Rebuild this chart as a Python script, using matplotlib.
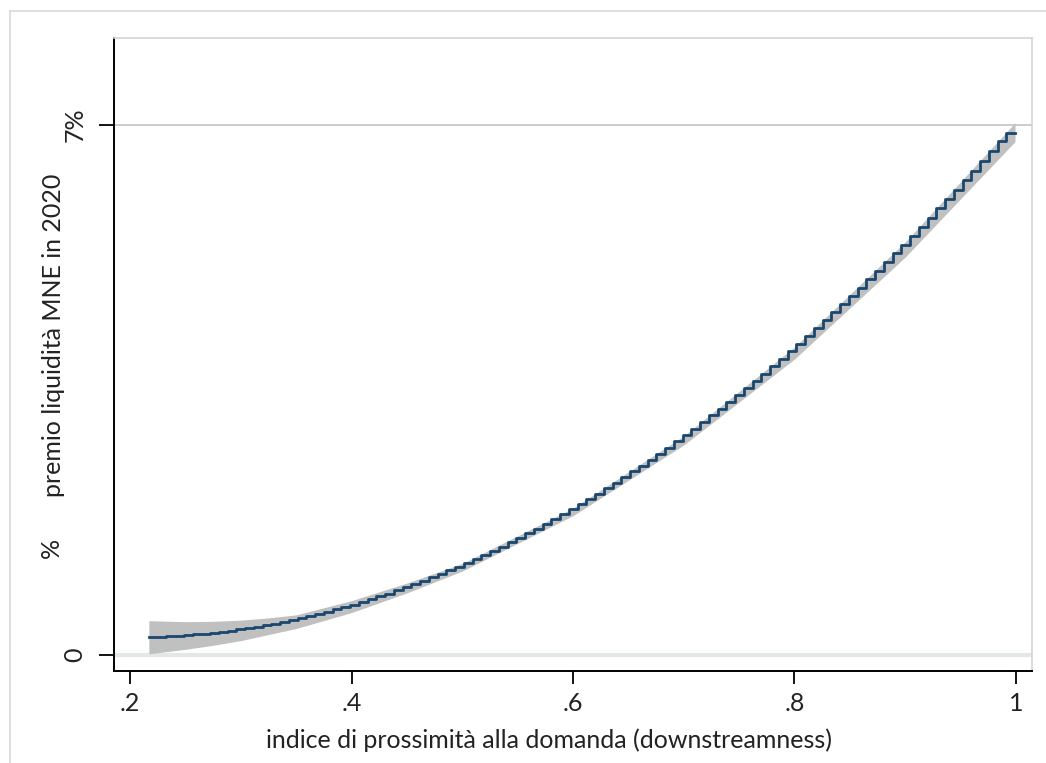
import matplotlib
matplotlib.use("Agg")
import matplotlib.pyplot as plt
from matplotlib.lines import Line2D

plt.rcParams['font.family'] = ['Lato', 'DejaVu Sans']

# Fitted MNE liquidity premium (%) over the downstreamness index
x_fit = [0.2170, 0.2249, 0.2328, 0.2407, 0.2486, 0.2565, 0.2644, 0.2723, 0.2802, 0.2881,
         0.2960, 0.3039, 0.3118, 0.3197, 0.3276, 0.3355, 0.3434, 0.3513, 0.3592, 0.3671,
         0.3750, 0.3829, 0.3908, 0.3987, 0.4066, 0.4145, 0.4224, 0.4303, 0.4382, 0.4461,
         0.4540, 0.4619, 0.4698, 0.4777, 0.4856, 0.4935, 0.5014, 0.5093, 0.5172, 0.5251,
         0.5330, 0.5409, 0.5488, 0.5567, 0.5646, 0.5725, 0.5804, 0.5883, 0.5962, 0.6041,
         0.6120, 0.6199, 0.6278, 0.6357, 0.6436, 0.6515, 0.6594, 0.6673, 0.6752, 0.6831,
         0.6910, 0.6989, 0.7068, 0.7147, 0.7226, 0.7305, 0.7384, 0.7463, 0.7542, 0.7621,
         0.7700, 0.7779, 0.7858, 0.7937, 0.8016, 0.8095, 0.8174, 0.8253, 0.8332, 0.8411,
         0.8490, 0.8569, 0.8648, 0.8727, 0.8806, 0.8885, 0.8964, 0.9043, 0.9122, 0.9201,
         0.9280, 0.9359, 0.9438, 0.9517, 0.9596, 0.9675, 0.9754, 0.9833, 0.9912, 0.9991]

premium = [0.234, 0.237, 0.241, 0.246, 0.253, 0.261, 0.271, 0.281, 0.293, 0.307,
           0.322, 0.338, 0.355, 0.374, 0.393, 0.415, 0.437, 0.461, 0.487, 0.513,
           0.541, 0.570, 0.601, 0.633, 0.666, 0.700, 0.736, 0.773, 0.812, 0.852,
           0.893, 0.935, 0.979, 1.024, 1.070, 1.118, 1.167, 1.217, 1.269, 1.322,
           1.376, 1.432, 1.489, 1.547, 1.607, 1.668, 1.730, 1.794, 1.858, 1.925,
           1.992, 2.061, 2.131, 2.203, 2.275, 2.350, 2.425, 2.502, 2.580, 2.659,
           2.740, 2.822, 2.905, 2.990, 3.076, 3.164, 3.252, 3.342, 3.433, 3.526,
           3.620, 3.715, 3.812, 3.910, 4.009, 4.110, 4.211, 4.315, 4.419, 4.525,
           4.632, 4.741, 4.850, 4.961, 5.074, 5.188, 5.303, 5.419, 5.537, 5.656,
           5.776, 5.898, 6.021, 6.145, 6.271, 6.398, 6.526, 6.656, 6.787, 6.890]

# Confidence band of the fit
x_ci = [0.217, 0.25, 0.275, 0.30, 0.325, 0.35, 0.40, 0.45, 0.50, 0.60, 0.70, 0.80, 0.90, 0.9991]
ci_low = [0.015, 0.075, 0.128, 0.19, 0.27, 0.35, 0.56, 0.82, 1.108, 1.84, 2.774, 3.909, 5.256, 6.78]
ci_high = [0.453, 0.44, 0.445, 0.46, 0.49, 0.53, 0.718, 0.95, 1.208, 1.94, 2.894, 4.069, 5.456, 7.03]

x_ticks = [0.2, 0.4, 0.6, 0.8, 1.0]
x_ticklabels = ['.2', '.4', '.6', '.8', '1']
y_ticks = [0, 7]
y_ticklabels = ['0', '7%']

W, H = 1046, 763
fig = plt.figure(figsize=(W / 100, H / 100), dpi=100)
fig.patch.set_facecolor('white')

# outer graph-region frame
frame_col = '#d9d9d9'
fig.add_artist(Line2D([10 / W, 10 / W], [0, 1 - 11 / H], transform=fig.transFigure,
                      color=frame_col, lw=1.2))
fig.add_artist(Line2D([10 / W, 1], [1 - 11 / H, 1 - 11 / H], transform=fig.transFigure,
                      color=frame_col, lw=1.2))

ax = fig.add_axes([114 / W, 92 / H, (1032 - 114) / W, (671 - 38) / H])
ax.set_facecolor('white')

ax.set_xlim(0.18555, 1.01445)
ax.set_ylim(-0.2113, 8.149)

# grid lines at the y ticks
ax.axhline(0, color='#e2e8e8', lw=3.0, zorder=1)
ax.axhline(7, color='#c4c4c4', lw=1.2, zorder=1)

ax.fill_between(x_ci, ci_low, ci_high, color='#c0c0c0', lw=0, zorder=2)
ax.plot(x_fit, premium, drawstyle='steps-pre', color='#1a476f', lw=2.0, zorder=3)

ax.set_xticks(x_ticks)
ax.set_xticklabels(x_ticklabels)
ax.set_yticks(y_ticks)
ax.set_yticklabels(y_ticklabels, rotation=90, va='center')

ax.tick_params(axis='x', length=9, width=1.3, color='black', pad=6, labelsize=18,
               labelcolor='#222222')
ax.tick_params(axis='y', length=11, width=1.3, color='black', pad=9, labelsize=18,
               labelcolor='#222222')

for side in ('left', 'bottom'):
    ax.spines[side].set_color('black')
    ax.spines[side].set_linewidth(1.4)
ax.spines['top'].set_color('#d4d4d4')
ax.spines['top'].set_linewidth(1.2)
ax.spines['right'].set_visible(False)
ax.plot([1, 1], [1, 0.0], transform=ax.transAxes, color='#d4d4d4', lw=1.2, clip_on=False)

# axis titles
fig.text(549 / W, 1 - 740 / H, 'indice di prossimità alla domanda (downstreamness)',
         ha='center', va='center', fontsize=18, color='#222222')
fig.text(54 / W, 1 - 335 / H, 'premio liquidità MNE in 2020', rotation=90,
         ha='center', va='center', fontsize=18, color='#222222')
fig.text(51 / W, 1 - 548 / H, '%', rotation=90,
         ha='center', va='center', fontsize=18, color='#222222')

fig.savefig('out.png', dpi=100, facecolor='white')
